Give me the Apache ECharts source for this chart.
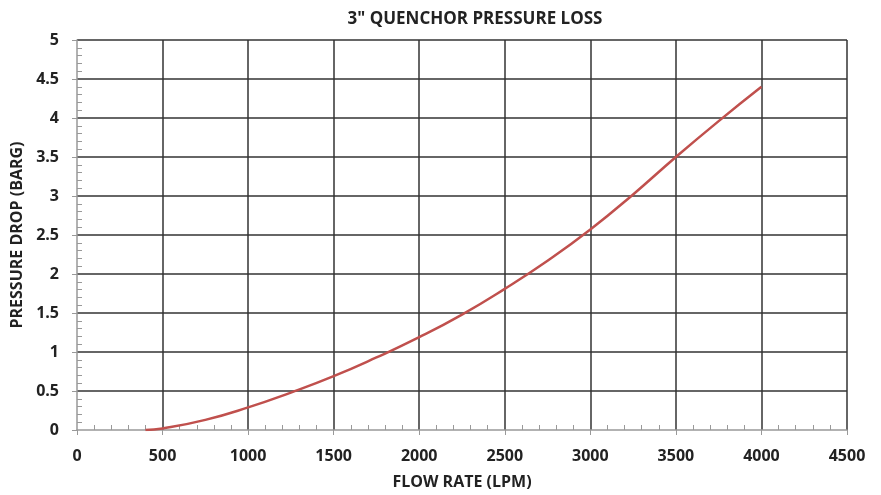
<!DOCTYPE html>
<html>
<head>
<meta charset="utf-8">
<script src="https://cdn.jsdelivr.net/npm/echarts@6/dist/echarts.min.js"></script>
<style>
  body { margin: 0; background: #fff; }
  #main { width: 881px; height: 495px; }
</style>
</head>
<body>
<div id="main"></div>
<script>
const flowRate = [400, 500, 750, 1000, 1250, 1500, 1750, 2000, 2250, 2500, 2750, 3000, 3250, 3500, 3750, 4000];
const pressureDrop = [0, 0.02, 0.13, 0.29, 0.48, 0.69, 0.93, 1.19, 1.48, 1.81, 2.17, 2.57, 3.02, 3.5, 3.96, 4.4];

const font = "'Open Sans', sans-serif";

function chartOption() {
  return {
    animation: false,
    title: {
      text: '3" QUENCHOR PRESSURE LOSS',
      left: 470,
      textAlign: "center",
      top: 6,
      textStyle: { fontFamily: font, fontSize: 17, fontWeight: "bold", color: "#222" },
    },
    grid: { left: 77, right: 34, top: 40, bottom: 65, outerBoundsMode: "none" },
    xAxis: {
      type: "value",
      min: 0,
      max: 4500,
      interval: 500,
      name: "FLOW RATE (LPM)",
      nameLocation: "middle",
      nameGap: 44,
      nameTextStyle: { fontFamily: font, fontSize: 16, fontWeight: "bold", color: "#222" },
      axisLine: { lineStyle: { color: "#999", width: 1.5 } },
      axisTick: { length: 5, lineStyle: { color: "#999" } },
      minorTick: { show: true, splitNumber: 5, length: -5, lineStyle: { color: "#999" } },
      axisLabel: {
        fontFamily: font, fontSize: 16, fontWeight: "bold", color: "#222", margin: 18,
        formatter: (v) => String(v),
      },
      splitLine: { show: true, showMinLine: false, lineStyle: { color: "#333", width: 1.5 } },
    },
    yAxis: {
      type: "value",
      min: 0,
      max: 5,
      interval: 0.5,
      name: "PRESSURE DROP (BARG)",
      nameLocation: "middle",
      nameGap: 50,
      nameTextStyle: { fontFamily: font, fontSize: 16, fontWeight: "bold", color: "#222" },
      axisLine: { show: true, lineStyle: { color: "#999", width: 1.5 } },
      axisTick: { show: true, length: 5, lineStyle: { color: "#999" } },
      minorTick: { show: true, splitNumber: 5, length: -5, lineStyle: { color: "#999" } },
      axisLabel: { fontFamily: font, fontSize: 16, fontWeight: "bold", color: "#222", margin: 18 },
      splitLine: { show: true, showMinLine: false, lineStyle: { color: "#333", width: 1.5 } },
    },
    series: [
      {
        type: "line",
        data: flowRate.map((x, i) => [x, pressureDrop[i]]),
        smooth: 0.5,
        showSymbol: false,
        lineStyle: { color: "#c0504d", width: 2.5 },
      },
    ],
  };
}

function onLoad() {
  const chart = echarts.init(document.getElementById("main"));
  chart.setOption(chartOption());
}

addEventListener("load", onLoad);
</script>
</body>
</html>
